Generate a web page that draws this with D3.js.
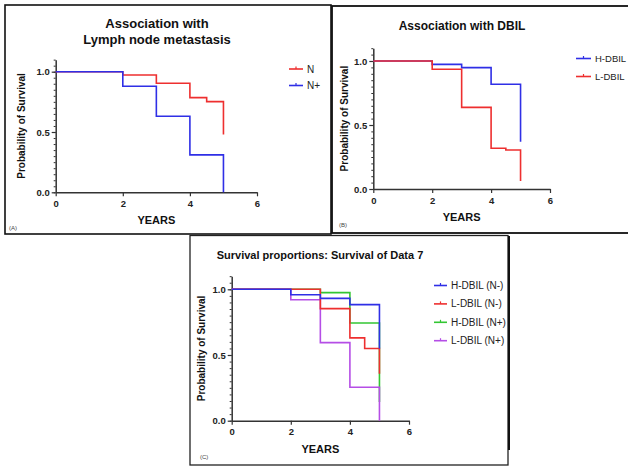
<!DOCTYPE html>
<html>
<head>
<meta charset="utf-8">
<script src="https://cdn.jsdelivr.net/npm/d3@7"></script>
<style>
  body { margin: 0; background: #fff; }
  svg { display: block; font-family: "Liberation Sans", Arial, sans-serif; }
</style>
</head>
<body>
<script>
// ---- data ----
var xTicks = [0, 2, 4, 6];
var yTicks = [0, 0.5, 1.0];

// (A) lymph node metastasis
var aSeriesNames = ["N", "N+"];
var aNTimes = [0, 2, 3, 4, 4.5, 5];
var aNSurv  = [1, 0.973, 0.904, 0.785, 0.752, 0.48];
var aNpTimes = [0, 2, 3, 4, 5];
var aNpSurv  = [1, 0.879, 0.63, 0.31, 0];

// (B) DBIL
var bSeriesNames = ["H-DBIL", "L-DBIL"];
var bHTimes = [0, 2, 3, 4, 5];
var bHSurv  = [1, 0.974, 0.948, 0.818, 0.37];
var bLTimes = [0, 2, 3, 4, 4.5, 5];
var bLSurv  = [1, 0.935, 0.638, 0.318, 0.305, 0.062];

// (C) survival of data 7
var cSeriesNames = ["H-DBIL (N-)", "L-DBIL (N-)", "H-DBIL (N+)", "L-DBIL (N+)"];
var cHnTimes = [0, 2, 3, 4, 5];
var cHnSurv  = [1, 0.959, 0.931, 0.883, 0.55];
var cLnTimes = [0, 3, 4, 4.5, 5];
var cLnSurv  = [1, 0.853, 0.63, 0.55, 0.358];
var cHpTimes = [0, 3, 4, 5];
var cHpSurv  = [1, 0.975, 0.744, 0.142];
var cLpTimes = [0, 2, 3, 4, 5];
var cLpSurv  = [1, 0.921, 0.594, 0.254, 0];

var RED = "#ee2f2f", BLUE = "#2f2fe6", GREEN = "#33c633", PURPLE = "#b54ee6";

var svg = d3.select("body").append("svg")
  .attr("width", 628)
  .attr("height", 466);

// panel borders
svg.append("rect").attr("x", 5).attr("y", 5).attr("width", 326).attr("height", 229)
  .attr("fill", "none").attr("stroke", "#111").attr("stroke-width", 1.6);
svg.append("rect").attr("x", 332).attr("y", 6).attr("width", 310).attr("height", 227)
  .attr("fill", "none").attr("stroke", "#111").attr("stroke-width", 1.8);
svg.append("rect").attr("x", 190).attr("y", 235.5).attr("width", 318).attr("height", 229.5)
  .attr("fill", "#fff").attr("stroke", "#222").attr("stroke-width", 1.3);
svg.append("line").attr("x1", 509).attr("y1", 236).attr("x2", 509).attr("y2", 450)
  .attr("stroke", "#111").attr("stroke-width", 2);

function zip(t, s) {
  return t.map(function(d, i) { return {t: d, s: s[i]}; });
}

function drawPanel(p) {
  var g = svg.append("g");
  var x = d3.scaleLinear().domain([0, 6]).range([p.x0, p.x6]);
  var unit = p.yZero - p.yOne;
  var y = d3.scaleLinear().domain([0, 1.1]).range([p.yZero, p.yZero - 1.1 * unit]);

  // minor y ticks
  g.append("g")
    .attr("transform", "translate(" + p.x0 + ",0)")
    .call(d3.axisLeft(y).tickValues(d3.range(0, 1.101, 0.05)).tickSize(2).tickFormat(""))
    .call(function(a) { a.select(".domain").remove(); a.selectAll("line").attr("stroke", "#333"); });

  // y axis
  var ya = g.append("g")
    .attr("transform", "translate(" + p.x0 + ",0)")
    .call(d3.axisLeft(y).tickValues(yTicks).tickSize(4).tickPadding(2).tickSizeOuter(0)
      .tickFormat(d3.format(".1f")));
  ya.select(".domain").attr("stroke", "#333").attr("stroke-width", 1.5);
  ya.selectAll("line").attr("stroke", "#333").attr("stroke-width", 1.2);
  ya.selectAll("text").attr("font-size", 9.5).attr("font-weight", "bold").attr("fill", "#222");

  // x axis
  var xa = g.append("g")
    .attr("transform", "translate(0," + p.yZero + ")")
    .call(d3.axisBottom(x).tickValues(xTicks).tickSize(4).tickPadding(4).tickSizeOuter(0)
      .tickFormat(d3.format("d")));
  xa.select(".domain").attr("stroke", "#333").attr("stroke-width", 1.5);
  xa.selectAll("line").attr("stroke", "#333").attr("stroke-width", 1.2);
  xa.selectAll("text").attr("font-size", 9.5).attr("font-weight", "bold").attr("fill", "#222");

  var line = d3.line()
    .x(function(d) { return x(d.t); })
    .y(function(d) { return y(d.s); })
    .curve(d3.curveStepAfter);

  // draw order may differ from legend order
  (p.drawOrder || p.series).forEach(function(s) {
    g.append("path")
      .datum(zip(s.times, s.surv))
      .attr("fill", "none")
      .attr("stroke", s.color)
      .attr("stroke-width", 1.6)
      .attr("d", line);
  });

  // titles
  p.title.forEach(function(t, i) {
    g.append("text")
      .attr("x", p.titleX).attr("y", p.titleY + i * 16)
      .attr("text-anchor", "middle")
      .attr("font-size", p.titleSize).attr("font-weight", "bold").attr("fill", "#111")
      .text(t);
  });

  g.append("text")
    .attr("transform", "translate(" + p.ylabX + "," + ((p.yZero + y(1.1)) / 2) + ") rotate(-90)")
    .attr("text-anchor", "middle")
    .attr("font-size", 10).attr("font-weight", "bold").attr("fill", "#111")
    .text("Probability of Survival");

  g.append("text")
    .attr("x", (p.x0 + p.x6) / 2).attr("y", p.yZero + 32)
    .attr("text-anchor", "middle")
    .attr("font-size", 11).attr("font-weight", "bold").attr("fill", "#111")
    .text("YEARS");

  g.append("text")
    .attr("x", p.tagX).attr("y", p.tagY)
    .attr("font-size", 6).attr("fill", "#444")
    .text(p.tag);

  // legend
  p.series.forEach(function(s, i) {
    var ly = p.legY + i * p.legGap;
    g.append("line")
      .attr("x1", p.legX).attr("x2", p.legX + p.legLen)
      .attr("y1", ly).attr("y2", ly)
      .attr("stroke", s.color).attr("stroke-width", 1.6);
    g.append("line")
      .attr("x1", p.legX + p.legLen / 2).attr("x2", p.legX + p.legLen / 2)
      .attr("y1", ly - 2.5).attr("y2", ly)
      .attr("stroke", s.color).attr("stroke-width", 1.2);
    g.append("text")
      .attr("x", p.legX + p.legLen + 4).attr("y", ly + 3.5)
      .attr("font-size", p.legSize || 10).attr("fill", "#222")
      .text(s.name);
  });
}

drawPanel({
  x0: 55.7, x6: 257, yOne: 71.7, yZero: 192.3,
  title: ["Association with", "Lymph node metastasis"], titleX: 157, titleY: 28, titleSize: 13,
  ylabX: 25, tag: "(A)", tagX: 9, tagY: 230,
  legX: 289, legLen: 14, legY: 69, legGap: 16.5,
  series: [
    {name: aSeriesNames[0], times: aNTimes, surv: aNSurv, color: RED},
    {name: aSeriesNames[1], times: aNpTimes, surv: aNpSurv, color: BLUE}
  ]
});

drawPanel({
  x0: 373.3, x6: 550, yOne: 61, yZero: 189,
  title: ["Association with DBIL"], titleX: 462, titleY: 30, titleSize: 12,
  ylabX: 348, tag: "(B)", tagX: 339, tagY: 227,
  legX: 576, legLen: 15, legY: 58.5, legGap: 18, legSize: 9.5,
  series: [
    {name: bSeriesNames[0], times: bHTimes, surv: bHSurv, color: BLUE},
    {name: bSeriesNames[1], times: bLTimes, surv: bLSurv, color: RED}
  ]
});

var cHn = {name: cSeriesNames[0], times: cHnTimes, surv: cHnSurv, color: BLUE};
var cLn = {name: cSeriesNames[1], times: cLnTimes, surv: cLnSurv, color: RED};
var cHp = {name: cSeriesNames[2], times: cHpTimes, surv: cHpSurv, color: GREEN};
var cLp = {name: cSeriesNames[3], times: cLpTimes, surv: cLpSurv, color: PURPLE};

drawPanel({
  x0: 231.7, x6: 409, yOne: 289.3, yZero: 420.7,
  title: ["Survival proportions: Survival of Data 7"], titleX: 320, titleY: 259, titleSize: 11,
  ylabX: 205, tag: "(C)", tagX: 200, tagY: 459,
  legX: 434, legLen: 13, legY: 285.5, legGap: 18.4,
  series: [cHn, cLn, cHp, cLp],
  drawOrder: [cHp, cLp, cLn, cHn]
});
</script>
</body>
</html>
